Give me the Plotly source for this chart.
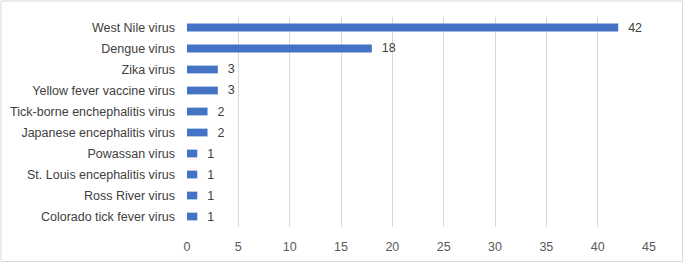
import plotly.graph_objects as go

viruses = ["West Nile virus", "Dengue virus", "Zika virus", "Yellow fever vaccine virus",
           "Tick-borne enchephalitis virus", "Japanese encephalitis virus", "Powassan virus",
           "St. Louis encephalitis virus", "Ross River virus", "Colorado tick fever virus"]
counts = [42, 18, 3, 3, 2, 2, 1, 1, 1, 1]
x_ticks = [0, 5, 10, 15, 20, 25, 30, 35, 40, 45]

W, H = 684, 263
ml, mr, mt, mb = 187, 35, 17, 36

fig = go.Figure(go.Bar(
    x=counts[::-1], y=viruses[::-1], orientation="h",
    marker=dict(color="#4472C4", line=dict(width=0)),
    width=0.37,
    text=["\u00a0\u00a0" + str(c) for c in counts[::-1]], textposition="outside",
    constraintext="none",
    textfont=dict(color="#404040", size=12.5, family="Liberation Sans"),
    cliponaxis=False,
))

pw = W - ml - mr
ph = H - mt - mb
fig.add_shape(type="rect", xref="paper", yref="paper",
              x0=(1 - ml) / pw, x1=(W - ml - 1.5) / pw,
              y0=-(mb - 1.5) / ph, y1=(ph + mt - 1) / ph,
              line=dict(color="#D9D9D9", width=1), fillcolor="rgba(0,0,0,0)", layer="below")

fig.update_layout(
    width=W, height=H, margin=dict(l=ml, r=mr, t=mt, b=mb, pad=0, autoexpand=False),
    paper_bgcolor="white", plot_bgcolor="white", showlegend=False,
    font=dict(family="Liberation Sans", size=12.5, color="#404040"),
    xaxis=dict(range=[0, 45], tickvals=x_ticks, showgrid=True, gridcolor="#D9D9D9", gridwidth=1,
               zeroline=False, showline=False, ticks="", ticklabelstandoff=10, automargin=False,
               tickfont=dict(color="#595959", size=12.5)),
    yaxis=dict(showgrid=False, zeroline=False, showline=False, ticks="", ticklabelstandoff=11,
               automargin=False, tickfont=dict(color="#404040", size=12.5)),
)
fig.write_html("out.html", config={"displayModeBar": False},
               post_script="document.body.style.margin='0';document.body.style.overflow='hidden';")
